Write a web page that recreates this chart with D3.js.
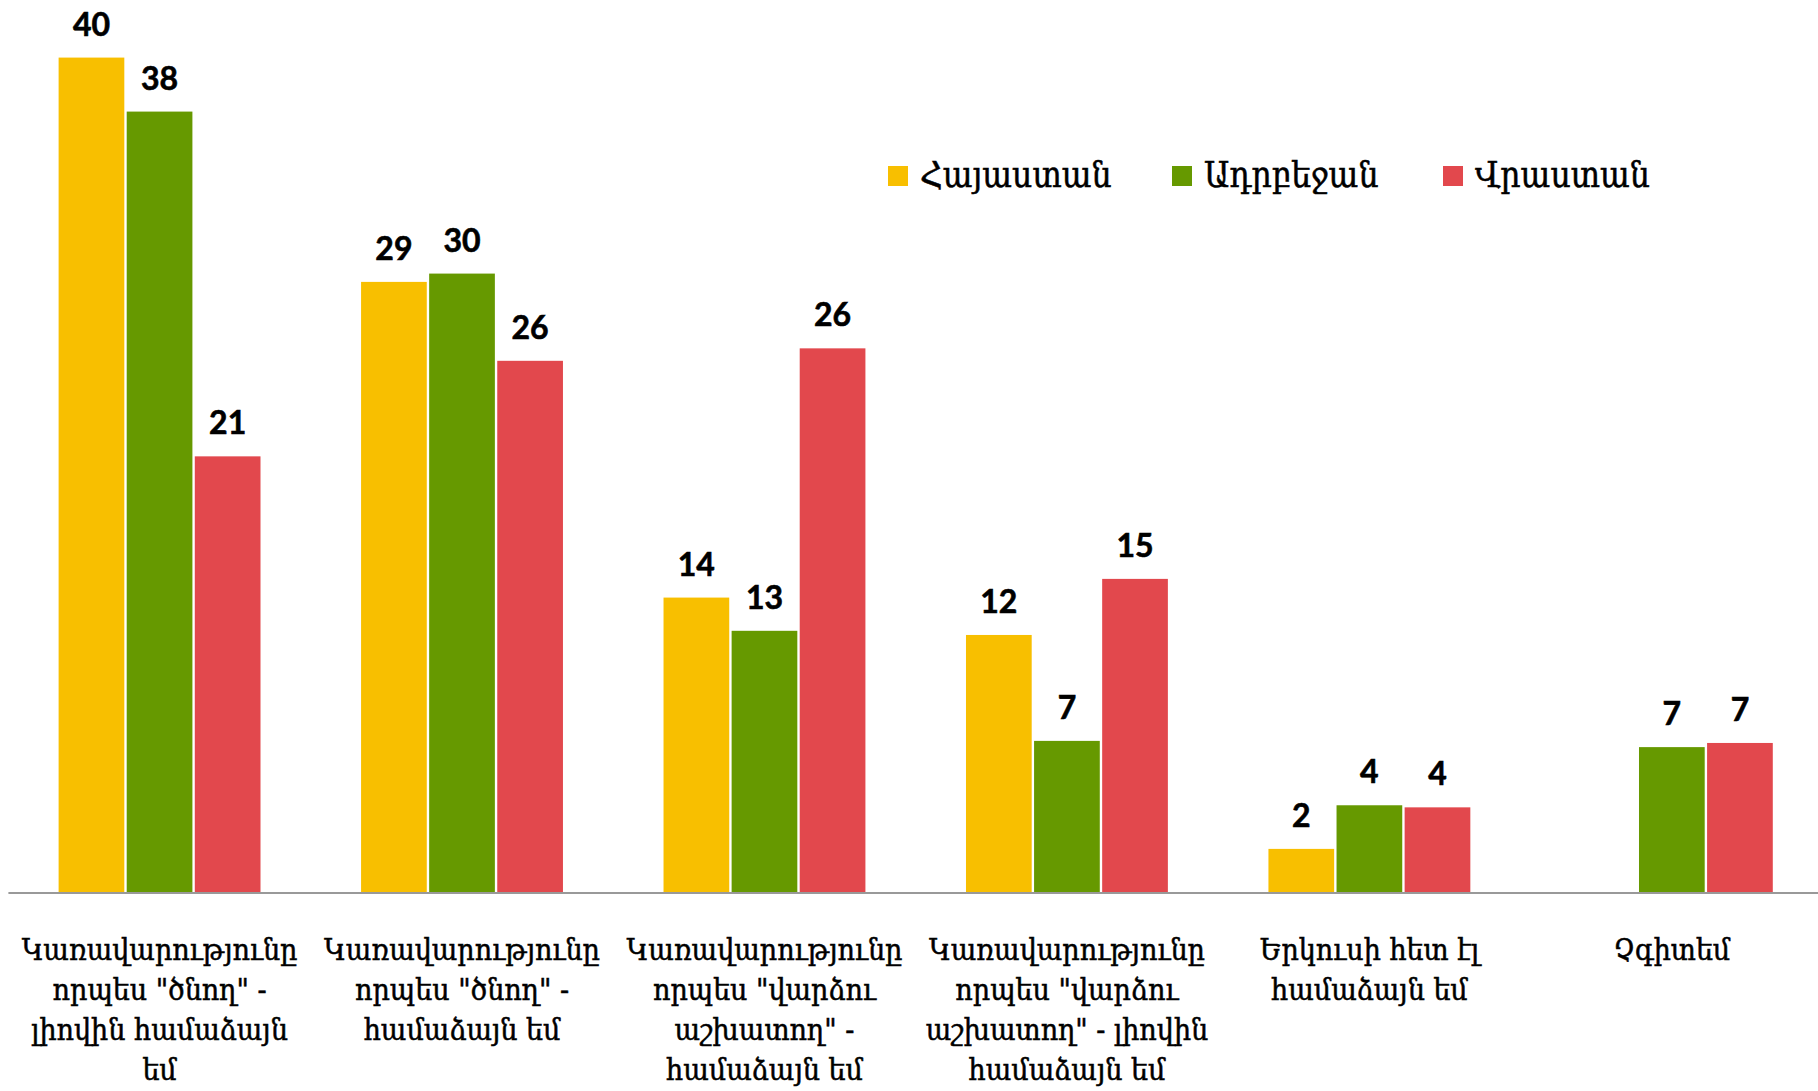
<!DOCTYPE html>
<html>
<head>
<meta charset="utf-8">
<script src="https://cdn.jsdelivr.net/npm/d3@7"></script>
<style>
  body { margin: 0; background: #fff; }
  svg { display: block; }
</style>
</head>
<body>
<div id="chart"></div>
<script>
// chart values
var categories = ["c1", "c2", "c3", "c4", "c5", "c6"]
var categoryLines = [
    ["Կառավարությունը", "որպես \"ծնող\" -", "լիովին համաձայն", "եմ"],
    ["Կառավարությունը", "որպես \"ծնող\" -", "համաձայն եմ"],
    ["Կառավարությունը", "որպես \"վարձու", "աշխատող\" -", "համաձայն եմ"],
    ["Կառավարությունը", "որպես \"վարձու", "աշխատող\" - լիովին", "համաձայն եմ"],
    ["Երկուսի հետ էլ", "համաձայն եմ"],
    ["Չգիտեմ"]
]
var seriesNames = ["Հայաստան", "Ադրբեջան", "Վրաստան"]
var seriesColors = ["#F8BF00", "#669900", "#E2484D"]
var armenia = [40.2, 29.4, 14.2, 12.4, 2.1, null]
var azerbaijan = [37.6, 29.8, 12.6, 7.3, 4.2, 7.0]
var georgia = [21.0, 25.6, 26.2, 15.1, 4.1, 7.2]
var seriesValues = [armenia, azerbaijan, georgia]

var width = 1818
var height = 1091
var baseY = 892.5
var armFont = "'DejaVu Serif Condensed', 'DejaVu Serif', serif"

var svg = d3.select("#chart").append("svg")
    .attr("width", width).attr("height", height)

var x0 = d3.scaleBand()
    .domain(categories)
    .range([8.4, 1823])
    .paddingInner(0.3325)
    .paddingOuter(0.166)

var x1 = d3.scaleBand()
    .domain(d3.range(seriesNames.length))
    .range([0, x0.bandwidth()])
    .paddingInner(0.035)

var y = d3.scaleLinear()
    .domain([0, 42])
    .range([baseY, 20.2])

var rows = []
categories.forEach(function (c, i) {
    seriesValues.forEach(function (vals, s) {
        if (vals[i] != null) rows.push({ cat: c, s: s, value: vals[i] })
    })
})

// bars
svg.append("g").selectAll("rect")
    .data(rows)
    .enter()
    .append("rect")
    .attr("x", function (d) { return x0(d.cat) + x1(d.s) })
    .attr("y", function (d) { return y(d.value) })
    .attr("width", x1.bandwidth())
    .attr("height", function (d) { return baseY - y(d.value) })
    .attr("fill", function (d) { return seriesColors[d.s] })

// value labels
svg.append("g").selectAll("text")
    .data(rows)
    .enter()
    .append("text")
    .attr("x", function (d) { return x0(d.cat) + x1(d.s) + x1.bandwidth() / 2 })
    .attr("y", function (d) { return y(d.value) - 22 })
    .attr("text-anchor", "middle")
    .style("font-family", "Lato, 'Open Sans', sans-serif")
    .style("font-weight", "bold")
    .style("font-size", "32px")
    .attr("fill", "#000")
    .attr("stroke", "#000")
    .attr("stroke-width", 0.6)
    .text(function (d) { return Math.round(d.value) })

// baseline
svg.append("line")
    .attr("x1", 8.4).attr("x2", width)
    .attr("y1", baseY + 0.5).attr("y2", baseY + 0.5)
    .attr("stroke", "#999")
    .attr("stroke-width", 2)

// category labels
svg.append("g").selectAll("text")
    .data(categories)
    .enter()
    .append("text")
    .attr("text-anchor", "middle")
    .style("font-family", armFont)
    .style("font-size", "30px")
    .attr("fill", "#000")
    .attr("stroke", "#000")
    .attr("stroke-width", 0.5)
    .each(function (c, i) {
        var t = d3.select(this)
        categoryLines[i].forEach(function (line, k) {
            t.append("tspan")
                .attr("x", x0(c) + x0.bandwidth() / 2)
                .attr("y", 960 + k * 40)
                .text(line)
        })
    })

// legend
var legendX = [888, 1172, 1443]
var legend = svg.append("g").selectAll("g")
    .data(seriesNames)
    .enter()
    .append("g")
    .attr("transform", function (d, i) { return "translate(" + legendX[i] + ",166)" })
legend.append("rect")
    .attr("width", 20).attr("height", 20)
    .attr("fill", function (d, i) { return seriesColors[i] })
legend.append("text")
    .attr("x", 32).attr("y", 21)
    .style("font-family", armFont)
    .style("font-size", "35px")
    .attr("fill", "#000")
    .attr("stroke", "#000")
    .attr("stroke-width", 0.5)
    .text(function (d) { return d })
</script>
</body>
</html>
